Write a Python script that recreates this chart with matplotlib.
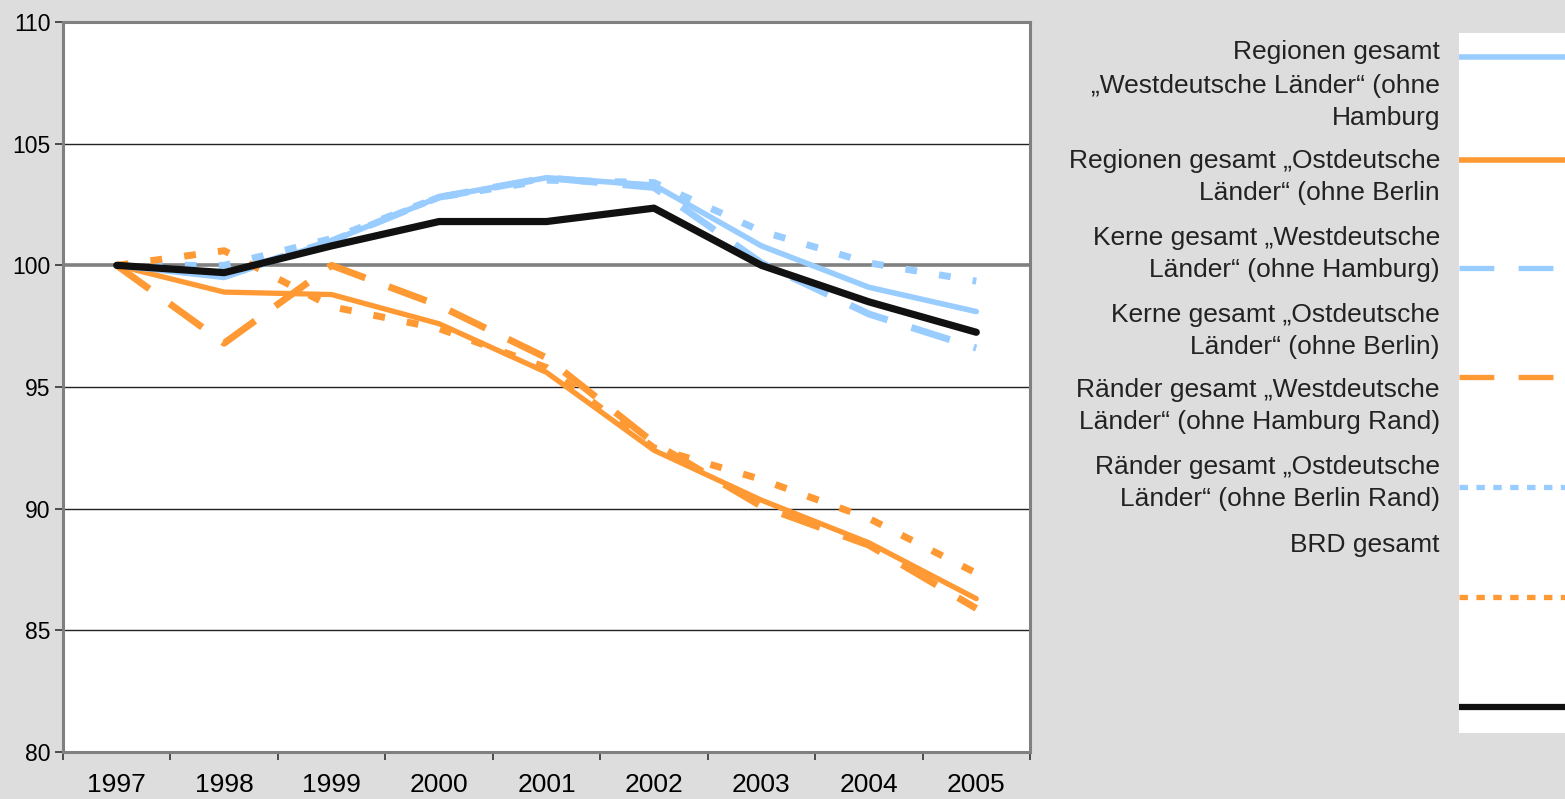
import matplotlib.pyplot as plt
import numpy as np

plt.rcParams['font.family'] = ['Liberation Sans', 'DejaVu Sans']

years = ['1997', '1998', '1999', '2000', '2001', '2002', '2003', '2004', '2005']

regionen_west = [100, 99.5, 101.0, 102.8, 103.6, 103.3, 100.8, 99.1, 98.1]
regionen_ost = [100, 98.9, 98.8, 97.6, 95.6, 92.4, 90.35, 88.6, 86.3]
kerne_west = [100, 99.6, 101.0, 102.8, 103.6, 103.2, 100.1, 98.0, 96.6]
kerne_ost = [100, 96.8, 100.0, 98.35, 96.2, 92.7, 90.1, 88.5, 85.9]
raender_west = [100, 100.0, 101.1, 102.8, 103.5, 103.4, 101.4, 100.1, 99.35]
raender_ost = [100, 100.6, 98.3, 97.4, 95.8, 92.5, 91.2, 89.6, 87.35]
brd = [100, 99.7, 100.8, 101.8, 101.8, 102.35, 100.0, 98.5, 97.25]

labels = [
    'Regionen gesamt\n\u201eWestdeutsche L\u00e4nder\u201c (ohne\nHamburg',
    'Regionen gesamt \u201eOstdeutsche\nL\u00e4nder\u201c (ohne Berlin',
    'Kerne gesamt \u201eWestdeutsche\nL\u00e4nder\u201c (ohne Hamburg)',
    'Kerne gesamt \u201eOstdeutsche\nL\u00e4nder\u201c (ohne Berlin)',
    'R\u00e4nder gesamt \u201eWestdeutsche\nL\u00e4nder\u201c (ohne Hamburg Rand)',
    'R\u00e4nder gesamt \u201eOstdeutsche\nL\u00e4nder\u201c (ohne Berlin Rand)',
    'BRD gesamt',
]

blue = '#99CCFF'
orange = '#FF9933'

# (values, colour, style in plot, width in plot, style in legend, width in legend)
series = [
    (regionen_west, blue, '-', 4.0, '-', 4.0),
    (regionen_ost, orange, '-', 3.8, '-', 4.0),
    (kerne_west, blue, (0, (5.8, 3.6)), 5.0, (0, (6.6, 4.6)), 3.8),
    (kerne_ost, orange, (0, (5.8, 3.6)), 5.0, (0, (6.6, 4.6)), 3.8),
    (raender_west, blue, (0, (1.7, 3.2)), 5.0, (0, (1.6, 1.6)), 3.8),
    (raender_ost, orange, (0, (1.7, 3.2)), 5.0, (0, (1.6, 1.6)), 3.8),
    (brd, '#111111', '-', 5.2, '-', 4.5),
]

fig = plt.figure(figsize=(15.65, 7.99), dpi=100, facecolor='#DDDDDD')
W, H = 1565, 799
ax = fig.add_axes([63 / W, (H - 752) / H, 967 / W, 730 / H])
ax.set_facecolor('white')

x = np.arange(len(years))
for vals, col, ls, lw, _, _ in series:
    ax.plot(x, vals, color=col, linestyle=ls, linewidth=lw,
            solid_capstyle='round', dash_capstyle='butt', zorder=3)

ax.set_xlim(-0.5, len(years) - 0.5)
ax.set_ylim(80, 110)
ax.set_yticks(np.arange(80, 111, 5))
for v in [85, 90, 95, 105]:
    ax.axhline(v, color='#222222', linewidth=1.0, zorder=1)
ax.axhline(100, color='#808080', linewidth=2.6, zorder=2)

ax.set_xticks(np.arange(-0.5, len(years), 1.0))
ax.set_xticklabels([])
ax.set_xticks(x, minor=True)
ax.set_xticklabels(years, minor=True, fontsize=19)
ax.tick_params(axis='x', which='major', length=6, width=1.2, color='#333333', direction='out')
ax.tick_params(axis='x', which='minor', length=0, pad=15)
ax.tick_params(axis='y', length=6, width=1.2, color='#333333', labelsize=16.5, pad=3)

for s in ax.spines.values():
    s.set_color('#808080')
    s.set_linewidth(2.2)

# legend drawn by hand: labels on grey, samples in a white box
lax = fig.add_axes([1459 / W, (H - 733) / H, 106 / W, 700 / H])
lax.set_xlim(0, 1)
lax.set_ylim(733, 33)
lax.set_facecolor('white')
for s in lax.spines.values():
    s.set_visible(False)
lax.set_xticks([])
lax.set_yticks([])
sample_y = [57, 160, 268, 377, 487, 597, 707]
for (vals, col, _, _, ls, lw), yy in zip(series, sample_y):
    lax.plot([0.0, 1.0], [yy, yy], color=col, linestyle=ls, linewidth=lw,
             solid_capstyle='butt', dash_capstyle='butt')

label_y = [[52, 86, 118], [161, 193], [238, 270], [315, 347], [390, 422], [467, 499], [545]]
for lab, ys in zip(labels, label_y):
    for line, yy in zip(lab.split('\n'), ys):
        fig.text(1440 / W, 1 - yy / H, line, ha='right', va='center',
                 fontsize=19, color='#222222')

fig.savefig('out.png', dpi=100, facecolor=fig.get_facecolor())
